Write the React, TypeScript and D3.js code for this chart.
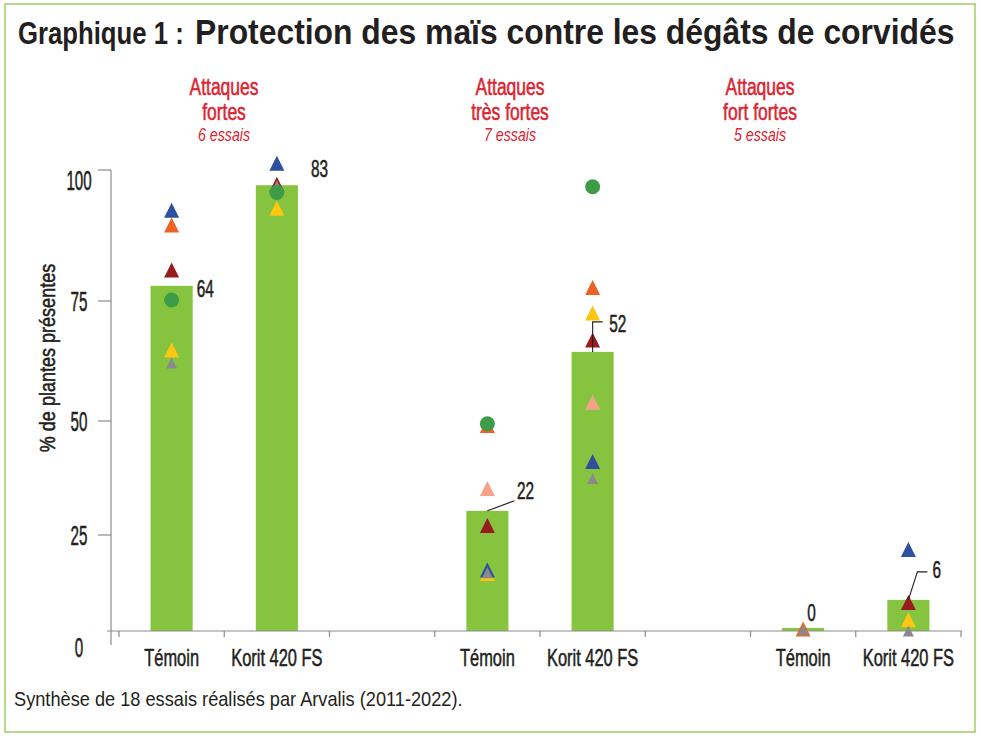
import React from "react";
import * as d3 from "d3";

// ---------- data ----------
const GROUP_TITLES = [
  ["Attaques", "fortes"],
  ["Attaques", "très fortes"],
  ["Attaques", "fort fortes"],
];
const GROUP_TRIALS = ["6 essais", "7 essais", "5 essais"];
const CATEGORIES = ["Témoin", "Korit 420 FS"];
// bar order: G1-Témoin, G1-Korit, G2-Témoin, G2-Korit, G3-Témoin, G3-Korit
const BAR_VALUES = [77.9, 97.1, 30.3, 64.4, 0.8, 8.1];
const BAR_LABELS = ["64", "83", "22", "52", "0", "6"];
const Y_TICKS = [0, 25, 50, 75, 100];

// individual trials (one colour per trial), same bar order
const TRIAL_YELLOW = [64.8, 92.7, 15.0, 72.5, null, 2.9];
const TRIAL_ORANGE = [89.5, null, 49.0, 77.6, 0.5, null];
const TRIAL_SALMON = [null, null, 35.2, 53.9, null, null];
const TRIAL_BLUE = [92.3, 101.3, 15.9, 41.1, null, 21.2];
const TRIAL_DARKRED = [80.9, 97.3, 27.1, 66.9, null, 7.4];
const TRIAL_GRAY = [62.1, 97.0, 15.2, 37.4, 0.3, 0];
const TRIAL_GREEN = [75.2, 95.7, 49.4, 96.8, null, null];

const SERIES = [
  { key: "yellow", values: TRIAL_YELLOW, color: "#fcc611", shape: "tri", w: 15 },
  { key: "orange", values: TRIAL_ORANGE, color: "#f05f25", shape: "tri", w: 15 },
  { key: "salmon", values: TRIAL_SALMON, color: "#f4a389", shape: "tri", w: 15 },
  { key: "blue", values: TRIAL_BLUE, color: "#2f4f9f", shape: "tri", w: 15 },
  { key: "darkred", values: TRIAL_DARKRED, color: "#981b1e", shape: "tri", w: 15 },
  { key: "gray", values: TRIAL_GRAY, color: "#8a8a8a", shape: "tri", w: 11 },
  { key: "green", values: TRIAL_GREEN, color: "#3e9b48", shape: "circle", w: 15 },
];

// ---------- layout ----------
const W = 981;
const H = 738;
const FONT = "'Liberation Sans', Arial, sans-serif";
const HEADING_X = [224, 510, 760];
// label offsets relative to bar top centre: [dx(left edge), dy(baseline)]
const LABEL_OFF = [
  [25, 11],
  [34, -8],
  [29.5, -12],
  [16.5, -20],
  [4, -7],
  [24, -22],
];
// leader line points relative to bar top centre
const LEADERS = [
  null,
  null,
  [[0, 0], [27, -10]],
  [[0, 0], [0, -30], [10, -30]],
  null,
  [[0, 0], [9, -28], [19, -28]],
];

const triType = {
  draw(ctx: any, size: number) {
    const s = Math.sqrt(size);
    ctx.moveTo(0, -s / 2);
    ctx.lineTo(s / 2, s / 2);
    ctx.lineTo(-s / 2, s / 2);
    ctx.closePath();
  },
};

function CText(props: any) {
  const { x, y, sx = 1, size, anchor = "start", weight = "normal", fill = "#231f20", italic, children, rotate, heavy } = props;
  const tr = `translate(${x},${y})${rotate ? ` rotate(${rotate})` : ""} scale(${sx},1)`;
  return (
    <text
      transform={tr}
      fontFamily={FONT}
      fontSize={size}
      fontWeight={weight}
      fontStyle={italic ? "italic" : "normal"}
      textAnchor={anchor}
      fill={fill}
      stroke={heavy ? fill : "none"}
      strokeWidth={heavy ? 0.55 : 0}
    >
      {children}
    </text>
  );
}

export default function App() {
  const slots: string[] = [];
  GROUP_TITLES.forEach((_, g) => {
    CATEGORIES.forEach((c, i) => slots.push(`${g}-${i}`));
    if (g < GROUP_TITLES.length - 1) slots.push(`gap${g}`);
  });
  const barSlots = slots.filter((s) => !s.startsWith("gap"));

  const x = d3.scaleBand<string>().domain(slots).range([119, 961]).paddingInner(0.6).paddingOuter(0.3);
  const y = d3.scaleLinear().domain(Y_TICKS).range([631, 535, 421, 301, 170]);
  const step = x.step();
  const x0 = 119;
  const xTicks = d3.range(slots.length + 1).map((i) => x0 + i * step);

  const cx = (i: number) => (x(barSlots[i]) as number) + x.bandwidth() / 2;
  const labelOff = (v: number) => (v === 100 ? 10 : v === 0 ? 16 : 0);

  return (
    <svg width={W} height={H} style={{ position: "absolute", left: 0, top: 0, background: "#fff" }}>
      <rect x={5} y={4} width={970} height={728} fill="#fff" stroke="#a6d06c" strokeWidth={1.6} />

      {/* title */}
      <CText x={18} y={44} size={31} sx={0.83} weight="bold">Graphique 1 :</CText>
      <CText x={195} y={44} size={36} sx={0.885} weight="bold">Protection des maïs contre les dégâts de corvidés</CText>

      {/* group headings */}
      {GROUP_TITLES.map((lines, g) => (
        <g key={g}>
          <CText x={HEADING_X[g]} y={95} size={23} sx={0.76} anchor="middle" fill="#dc2430" heavy>{lines[0]}</CText>
          <CText x={HEADING_X[g]} y={120} size={23} sx={0.76} anchor="middle" fill="#dc2430" heavy>{lines[1]}</CText>
          <CText x={HEADING_X[g]} y={141} size={18} sx={0.79} anchor="middle" fill="#dc2430" italic>{GROUP_TRIALS[g]}</CText>
        </g>
      ))}

      {/* y axis */}
      <line x1={111} x2={111} y1={170} y2={645} stroke="#8c8c8c" strokeWidth={1.2} />
      {Y_TICKS.filter((t) => t > 0).map((t) => (
        <line key={t} x1={98} x2={111} y1={y(t)} y2={y(t)} stroke="#8c8c8c" strokeWidth={1.2} />
      ))}
      {Y_TICKS.map((t) => (
        <CText key={t} x={79} y={y(t) + labelOff(t) + 10} size={27} sx={0.56} anchor="middle" heavy>{t}</CText>
      ))}
      <CText x={55} y={358} size={22} sx={0.82} anchor="middle" rotate={-90} heavy>% de plantes présentes</CText>

      {/* bars */}
      {BAR_VALUES.map((v, i) => (
        <rect key={i} x={x(barSlots[i])} y={y(v)} width={x.bandwidth()} height={y(0) - y(v)} fill="#86c440" />
      ))}

      {/* x axis */}
      <line x1={107} x2={962} y1={631} y2={631} stroke="#8c8c8c" strokeWidth={1.2} />
      {xTicks.map((t, i) => (
        <line key={i} x1={t} x2={t} y1={631} y2={637} stroke="#8c8c8c" strokeWidth={1.2} />
      ))}
      {barSlots.map((s, i) => (
        <CText key={s} x={cx(i)} y={666} size={24} sx={0.685} anchor="middle" heavy>{CATEGORIES[i % 2]}</CText>
      ))}

      {/* trial markers */}
      {SERIES.map((s) => (
        <g key={s.key}>
          {s.values.map((v, i) =>
            v == null ? null : s.shape === "circle" ? (
              <circle key={i} cx={cx(i)} cy={y(v)} r={s.w / 2} fill={s.color} />
            ) : (
              <path
                key={i}
                transform={`translate(${cx(i)},${y(v)})`}
                d={d3.symbol().type(triType as any).size(s.w * s.w)() as string}
                fill={s.color}
              />
            )
          )}
        </g>
      ))}

      {/* leaders and labels */}
      {BAR_VALUES.map((v, i) => {
        const bx = cx(i);
        const by = y(v);
        const pts = LEADERS[i];
        return (
          <g key={i}>
            {pts && (
              <path
                d={d3.line()(pts.map((p) => [bx + p[0], by + p[1]]) as any) as string}
                fill="none"
                stroke="#231f20"
                strokeWidth={1.1}
              />
            )}
            <CText x={bx + LABEL_OFF[i][0]} y={by + LABEL_OFF[i][1]} size={24} sx={0.64} heavy>{BAR_LABELS[i]}</CText>
          </g>
        );
      })}

      {/* footnote */}
      <CText x={14} y={706} size={20} sx={0.91}>Synthèse de 18 essais réalisés par Arvalis (2011-2022).</CText>
    </svg>
  );
}
